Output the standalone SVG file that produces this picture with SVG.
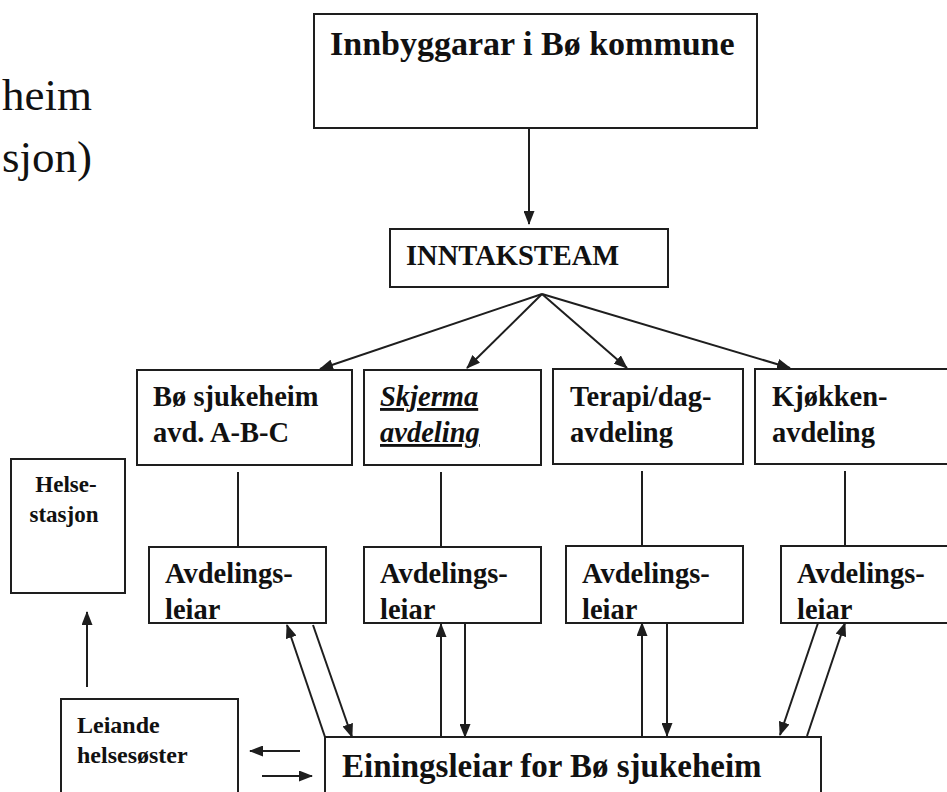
<svg xmlns="http://www.w3.org/2000/svg" width="947" height="792" viewBox="0 0 947 792">
<defs>
<style>
.box{fill:#fff;stroke:#1e1e1e;stroke-width:2}
.ln{stroke:#1e1e1e;stroke-width:2;fill:none}
.arr{stroke:#1e1e1e;stroke-width:2;fill:none;marker-end:url(#ah)}
text{font-family:"Liberation Serif","Times New Roman",serif;fill:#111}
.b{font-weight:bold}
.t28{font-size:28.5px;font-weight:bold}
.t23{font-size:23px;font-weight:bold}
</style>
<marker id="ah" markerUnits="userSpaceOnUse" markerWidth="14" markerHeight="11" refX="13" refY="5.5" orient="auto">
<path d="M0,0 L14,5.5 L0,11 z" fill="#1e1e1e"/>
</marker>
</defs>
<rect width="947" height="792" fill="#fff"/>

<g id="title-fragment">
<text x="2" y="110" font-size="45">heim</text>
<text x="2" y="172" font-size="45">sjon)</text>
</g>

<g id="connectors">
<line class="arr" x1="529" y1="128" x2="529" y2="224"/>
<line class="arr" x1="542" y1="294" x2="320" y2="369"/>
<line class="arr" x1="542" y1="294" x2="467" y2="368"/>
<line class="arr" x1="542" y1="294" x2="627" y2="368"/>
<line class="arr" x1="542" y1="294" x2="790" y2="368"/>
<line class="ln" x1="238" y1="472" x2="238" y2="547"/>
<line class="ln" x1="441" y1="472" x2="441" y2="547"/>
<line class="ln" x1="642" y1="471" x2="642" y2="546"/>
<line class="ln" x1="845" y1="471" x2="845" y2="546"/>
<line class="arr" x1="87" y1="687" x2="87" y2="612"/>
<line class="arr" x1="300" y1="751" x2="250" y2="751"/>
<line class="arr" x1="262" y1="776" x2="312" y2="776"/>
<line class="arr" x1="325" y1="737" x2="287" y2="625"/>
<line class="arr" x1="313" y1="625" x2="352" y2="737"/>
<line class="arr" x1="441" y1="737" x2="441" y2="624"/>
<line class="arr" x1="465" y1="623" x2="465" y2="737"/>
<line class="arr" x1="642" y1="736" x2="642" y2="623"/>
<line class="arr" x1="667" y1="623" x2="667" y2="736"/>
<line class="arr" x1="818" y1="623" x2="780" y2="735"/>
<line class="arr" x1="807" y1="736" x2="845" y2="623"/>
</g>

<g id="innbyggarar">
<rect class="box" x="314" y="14" width="443" height="114"/>
<text class="b" x="330" y="55" font-size="34">Innbyggarar i Bø kommune</text>
</g>

<g id="inntaksteam">
<rect class="box" x="390" y="229" width="278" height="58"/>
<text class="b" x="406" y="265" font-size="28.5">INNTAKSTEAM</text>
</g>

<g id="bo-sjukeheim">
<rect class="box" x="137" y="370" width="215" height="95"/>
<text class="t28" x="153" y="406">Bø sjukeheim</text>
<text class="t28" x="153" y="442">avd. A-B-C</text>
</g>

<g id="skjerma">
<rect class="box" x="364" y="370" width="177" height="95"/>
<text class="t28" x="380" y="406" font-style="italic" text-decoration="underline">Skjerma</text>
<text class="t28" x="380" y="442" font-style="italic" text-decoration="underline">avdeling</text>
</g>

<g id="terapi">
<rect class="box" x="553" y="369" width="190" height="95"/>
<text class="t28" x="570" y="406">Terapi/dag-</text>
<text class="t28" x="570" y="442">avdeling</text>
</g>

<g id="kjokken">
<rect class="box" x="755" y="369" width="210" height="95"/>
<text class="t28" x="772" y="406">Kjøkken-</text>
<text class="t28" x="772" y="442">avdeling</text>
</g>

<g id="helsestasjon">
<rect class="box" x="11" y="459" width="114" height="134"/>
<text class="t23" x="66" y="492" text-anchor="middle">Helse-</text>
<text class="t23" x="64" y="522" text-anchor="middle">stasjon</text>
</g>

<g id="avdelingsleiar-1">
<rect class="box" x="149" y="547" width="177" height="76"/>
<text class="t28" x="165" y="583">Avdelings-</text>
<text class="t28" x="165" y="619">leiar</text>
</g>

<g id="avdelingsleiar-2">
<rect class="box" x="364" y="547" width="177" height="76"/>
<text class="t28" x="380" y="583">Avdelings-</text>
<text class="t28" x="380" y="619">leiar</text>
</g>

<g id="avdelingsleiar-3">
<rect class="box" x="566" y="546" width="177" height="77"/>
<text class="t28" x="582" y="583">Avdelings-</text>
<text class="t28" x="582" y="619">leiar</text>
</g>

<g id="avdelingsleiar-4">
<rect class="box" x="781" y="546" width="185" height="77"/>
<text class="t28" x="797" y="583">Avdelings-</text>
<text class="t28" x="797" y="619">leiar</text>
</g>

<g id="leiande-helsesoster">
<rect class="box" x="61" y="699" width="177" height="110"/>
<text class="b" x="77" y="733" font-size="24">Leiande</text>
<text class="b" x="77" y="763" font-size="24">helsesøster</text>
</g>

<g id="einingsleiar">
<rect class="box" x="325" y="737" width="496" height="80"/>
<text class="b" x="342" y="777" font-size="33">Einingsleiar for Bø sjukeheim</text>
</g>
</svg>
